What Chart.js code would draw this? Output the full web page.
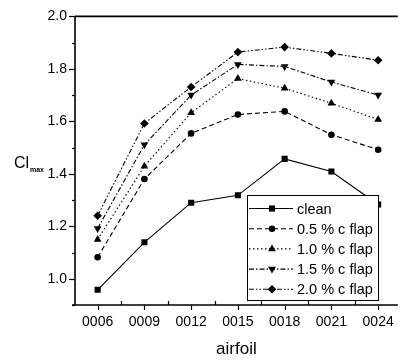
<!DOCTYPE html>
<html>
<head>
<meta charset="utf-8">
<script src="https://cdn.jsdelivr.net/npm/chart.js@4/dist/chart.umd.min.js"></script>
<style>
  html, body { margin: 0; padding: 0; background: #fff; }
  #wrap { width: 403px; height: 360px; position: relative; }
</style>
</head>
<body>
<div id="wrap"><canvas id="miGrafica" width="403" height="360"></canvas></div>
<script>
// categorias (eje X)
const etiquetas = ["0006", "0009", "0012", "0015", "0018", "0021", "0024"];
// series
const nombres = ["clean", "0.5 % c flap", "1.0 % c flap", "1.5 % c flap", "2.0 % c flap"];
const datosClean = [0.958, 1.139, 1.290, 1.318, 1.457, 1.409, 1.283];
const datosFlap05 = [1.082, 1.380, 1.554, 1.626, 1.638, 1.549, 1.492];
const datosFlap10 = [1.150, 1.429, 1.633, 1.763, 1.726, 1.669, 1.607];
const datosFlap15 = [1.192, 1.511, 1.700, 1.817, 1.809, 1.750, 1.700];
const datosFlap20 = [1.240, 1.592, 1.731, 1.864, 1.883, 1.859, 1.833];
// eje Y
const yMin = 0.9;
const yMax = 2.0;
const yPaso = 0.1;
// eje X (indice de categoria)
const xMin = -0.484;
const xMax = 6.421;

const fuente = "'Liberation Sans', Arial, sans-serif";

// estilos por serie
const estilos = [
  { dash: [], punto: "rect", radio: 4.3, rot: 0 },
  { dash: [5, 3], punto: "circle", radio: 3.3, rot: 0 },
  { dash: [1.5, 2.5], punto: "triangle", radio: 4.5, rot: 0 },
  { dash: [5, 2, 1.5, 2], punto: "triangle", radio: 4.5, rot: 180 },
  { dash: [5, 2, 1.5, 2, 1.5, 2], punto: "rectRot", radio: 4.3, rot: 0 },
];
const series = [datosClean, datosFlap05, datosFlap10, datosFlap15, datosFlap20];

const datasets = series.map((d, i) => ({
  label: nombres[i],
  data: d.map((v, j) => ({ x: j, y: v })),
  borderColor: "#000",
  backgroundColor: "#000",
  borderWidth: 1.1,
  borderDash: estilos[i].dash,
  pointStyle: estilos[i].punto,
  pointRadius: estilos[i].radio,
  pointRotation: estilos[i].rot,
  pointBorderWidth: 0,
  fill: false,
  tension: 0,
}));

// ejes, marcas, titulos y leyenda dibujados a mano
const marcoPlugin = {
  id: "marco",
  afterDraw(chart) {
    const c = chart.ctx;
    const a = chart.chartArea;
    const x = chart.scales.x;
    const y = chart.scales.y;
    c.save();
    c.strokeStyle = "#000";
    c.fillStyle = "#000";
    c.setLineDash([]);
    // ejes
    c.lineWidth = 1.6;
    c.beginPath();
    c.moveTo(a.left, a.top);
    c.lineTo(a.left, a.bottom);
    c.moveTo(a.left - 3, a.bottom);
    c.lineTo(a.right, a.bottom);
    c.moveTo(a.left, a.top);
    c.lineTo(a.right, a.top);
    c.stroke();
    // marcas Y
    c.lineWidth = 1.2;
    for (let k = 0; k <= Math.round((yMax - yMin) / yPaso); k++) {
      const v = yMin + k * yPaso;
      const py = Math.round(y.getPixelForValue(v)) + 0.5;
      const mayor = Math.round(v * 10) % 2 === 0;
      c.beginPath();
      c.moveTo(a.left, py);
      c.lineTo(a.left - (mayor ? 6 : 3), py);
      c.stroke();
    }
    // marcas X
    for (let i = 0; i < etiquetas.length; i++) {
      const px = Math.round(x.getPixelForValue(i)) + 0.5;
      c.beginPath();
      c.moveTo(px, a.bottom);
      c.lineTo(px, a.bottom + 5);
      c.stroke();
      if (i < etiquetas.length - 1) {
        const pm = Math.round(x.getPixelForValue(i + 0.5)) + 0.5;
        c.beginPath();
        c.moveTo(pm, a.bottom);
        c.lineTo(pm, a.bottom - 4);
        c.stroke();
      }
    }
    // titulos
    c.textBaseline = "alphabetic";
    c.textAlign = "left";
    c.font = "16px " + fuente;
    c.fillText("Cl", 14, 168);
    c.font = "bold 7px " + fuente;
    c.fillText("max", 30, 172);
    c.textAlign = "center";
    c.font = "17px " + fuente;
    c.fillText("airfoil", (a.left + a.right) / 2, 354);

    // leyenda
    const lx = 247, ly = 195, lw = 131, lh = 105;
    c.fillStyle = "#fff";
    c.fillRect(lx, ly, lw, lh);
    c.lineWidth = 1;
    c.strokeStyle = "#000";
    c.strokeRect(lx + 0.5, ly + 0.5, lw, lh);
    c.font = "14.5px " + fuente;
    c.textAlign = "left";
    c.textBaseline = "middle";
    c.fillStyle = "#000";
    for (let i = 0; i < nombres.length; i++) {
      const ry = ly + 13.5 + i * 20.2;
      c.lineWidth = 1.1;
      c.setLineDash(estilos[i].dash);
      c.beginPath();
      c.moveTo(lx + 2, ry);
      c.lineTo(lx + 46, ry);
      c.stroke();
      c.setLineDash([]);
      Chart.helpers.drawPoint(c, {
        pointStyle: estilos[i].punto,
        radius: estilos[i].radio,
        rotation: estilos[i].rot,
        borderWidth: 0,
      }, lx + 25, ry);
      c.fillText(nombres[i], lx + 50, ry + 1);
    }
    c.restore();
  },
};

const ctx = document.getElementById("miGrafica").getContext("2d");
new Chart(ctx, {
  type: "line",
  data: { datasets: datasets },
  options: {
    responsive: false,
    animation: false,
    events: [],
    layout: { padding: { top: 15, right: 0, left: 0, bottom: 0 } },
    plugins: { legend: { display: false }, tooltip: { enabled: false } },
    scales: {
      x: {
        type: "linear",
        min: xMin,
        max: xMax,
        grid: { display: false, drawTicks: false },
        border: { display: false },
        afterBuildTicks: (s) => { s.ticks = etiquetas.map((_, i) => ({ value: i })); },
        ticks: {
          color: "#000",
          font: { family: fuente, size: 14 },
          padding: 9,
          maxRotation: 0,
          autoSkip: false,
          callback: (v) => etiquetas[v],
        },
        afterFit: (s) => { s.height = 55; },
      },
      y: {
        min: yMin,
        max: yMax,
        grid: { display: false, drawTicks: false },
        border: { display: false },
        ticks: {
          stepSize: yPaso,
          color: "#000",
          font: { family: fuente, size: 14 },
          padding: 8,
          callback: (v) => (Math.round(v * 10) % 2 === 0 ? Number(v).toFixed(1) : ""),
        },
        afterFit: (s) => { s.width = 75; },
      },
    },
  },
  plugins: [marcoPlugin],
});
</script>
</body>
</html>
